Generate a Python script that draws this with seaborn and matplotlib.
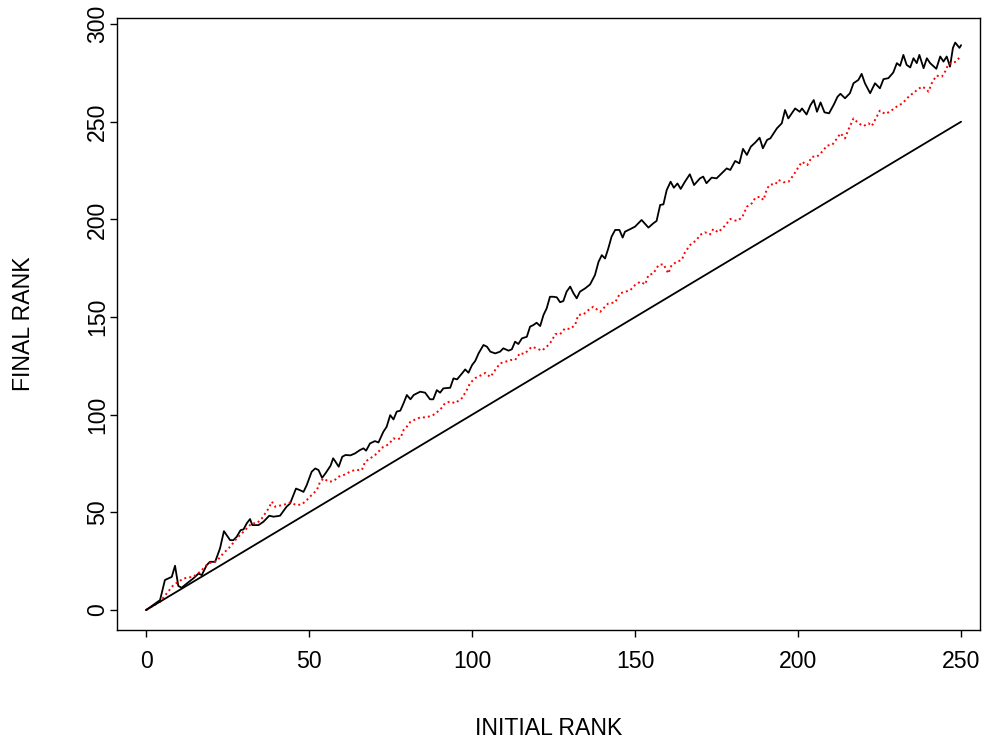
import matplotlib
matplotlib.use("Agg")
import matplotlib.pyplot as plt
import seaborn as sns
import pandas as pd

# Black solid series (initial rank -> final rank)
black_x = [0, 4.3, 5.8, 7.9, 8.9, 9.9, 10.9, 12.5, 14.5, 16.1, 17.1, 18.6, 19.6, 21.2, 22.7, 23.9, 25.8, 26.8, 27.8, 29.0,
           29.9, 30.9, 31.9, 32.6, 34.5, 36.0, 37.8, 39.1, 41.1, 43.1, 44.2, 45.2, 46.0, 47.2, 48.3, 49.3, 50.8, 51.9, 52.9, 54.0,
           55.0, 56.6, 57.4, 58.1, 59.1, 60.2, 61.2, 62.7, 64.1, 65.6, 66.7, 67.5, 68.7, 70.2, 71.3, 72.8, 73.8, 74.9, 75.9, 76.9,
           78.0, 79.0, 80.0, 81.1, 82.1, 84.1, 85.6, 87.1, 88.1, 89.2, 90.2, 91.2, 93.3, 94.3, 95.4, 96.9, 97.9, 98.9, 100.0, 101.0,
           102.0, 103.5, 104.6, 105.6, 107.1, 108.6, 109.6, 111.2, 112.2, 113.2, 114.2, 115.3, 116.8, 117.8, 118.8, 119.8, 120.9, 121.9, 122.9, 123.9,
           124.9, 126.0, 127.0, 128.0, 129.0, 130.1, 131.1, 132.1, 133.1, 134.7, 136.2, 137.7, 138.8, 139.8, 140.8, 141.8, 142.8, 143.9, 145.2, 146.2,
           146.9, 148.5, 150.0, 152.0, 154.1, 155.6, 156.6, 157.7, 158.7, 159.7, 160.9, 161.9, 163.0, 164.0, 165.3, 166.8, 168.1, 169.9, 170.9, 171.9,
           173.5, 175.0, 176.6, 178.1, 179.2, 180.7, 182.0, 183.1, 184.3, 185.5, 186.9, 188.2, 189.2, 190.5, 191.5, 193.5, 195.0, 196.0, 197.0, 199.1,
           200.5, 201.2, 202.6, 203.8, 204.8, 205.8, 206.9, 208.1, 209.5, 211.0, 212.1, 213.0, 214.4, 215.9, 217.0, 218.5, 219.5, 220.5, 222.1, 223.6,
           225.1, 226.2, 227.7, 229.2, 230.3, 231.3, 232.3, 233.3, 234.4, 235.4, 236.4, 237.2, 238.5, 239.5, 240.5, 242.4, 243.6, 244.6, 245.6, 246.6,
           247.5, 248.2, 249.5, 250.0]
black_y = [0, 5.1, 15.4, 17.0, 22.7, 12.4, 11.4, 13.6, 16.2, 18.7, 17.9, 23.0, 24.7, 24.7, 31.6, 40.4, 35.8, 35.8, 37.5, 40.9,
           41.3, 44.4, 46.6, 43.5, 43.5, 45.2, 48.3, 47.8, 48.3, 52.9, 54.6, 58.9, 62.2, 61.4, 60.5, 64.0, 70.8, 72.5, 71.7, 67.7,
           69.9, 73.9, 77.7, 76.0, 73.4, 78.5, 79.4, 79.2, 80.2, 81.9, 82.8, 81.6, 85.3, 86.5, 85.8, 91.3, 93.8, 99.8, 97.6, 101.6,
           102.1, 105.9, 110.1, 107.9, 110.1, 111.8, 111.3, 107.9, 107.9, 112.6, 111.3, 113.5, 113.8, 118.6, 118.1, 121.1, 123.2, 121.5, 125.4, 127.6,
           131.4, 135.7, 134.8, 132.3, 131.4, 132.3, 134.0, 132.8, 133.5, 137.4, 136.2, 139.1, 139.9, 145.1, 145.9, 147.1, 145.4, 151.0, 154.5, 160.4,
           160.4, 160.1, 157.6, 158.2, 163.0, 165.6, 162.2, 159.6, 163.0, 164.7, 166.7, 171.5, 178.3, 181.7, 180.0, 185.2, 191.2, 194.6, 194.6, 190.7,
           193.7, 195.0, 196.3, 199.7, 195.8, 198.0, 199.2, 207.4, 207.7, 215.0, 219.3, 216.2, 218.4, 215.6, 219.3, 223.1, 217.6, 221.0, 221.9, 218.5,
           221.4, 221.0, 223.6, 226.1, 225.3, 229.9, 228.7, 236.1, 233.0, 237.2, 239.4, 241.8, 236.4, 240.7, 241.5, 246.6, 249.2, 256.0, 251.7, 256.8,
           255.1, 256.8, 253.7, 258.5, 261.1, 255.1, 259.9, 254.8, 254.3, 258.9, 262.8, 264.3, 262.0, 264.6, 269.7, 271.4, 274.5, 269.7, 264.6, 269.7,
           267.1, 271.8, 272.3, 275.2, 280.0, 278.6, 284.2, 279.1, 277.8, 282.5, 280.0, 284.2, 277.4, 282.5, 280.0, 277.1, 283.4, 280.8, 283.4, 278.2,
           287.8, 290.5, 287.8, 289.2]

# Red dotted series
red_x = [0, 4.3, 8.4, 11.5, 14.5, 16.6, 19.1, 21.7, 23.7, 25.8, 27.8, 29.9, 31.4, 32.4, 34.0, 35.5, 37.6, 38.6, 39.6, 41.1,
         42.6, 44.2, 46.2, 47.8, 49.3, 50.8, 52.4, 53.4, 54.5, 56.0, 57.5, 59.1, 61.2, 62.7, 64.1, 66.2, 67.2, 68.7, 70.2, 71.8,
         72.8, 74.4, 75.9, 76.9, 78.0, 79.0, 80.0, 81.1, 82.6, 84.1, 86.1, 88.1, 90.2, 91.7, 93.3, 94.8, 96.9, 98.4, 99.4, 101.0,
         102.5, 104.1, 105.6, 107.1, 108.6, 110.2, 111.7, 113.2, 114.8, 115.8, 116.8, 118.3, 119.8, 121.4, 122.9, 124.5, 125.5, 127.0, 128.5, 130.1,
         131.6, 132.6, 134.2, 135.7, 137.2, 139.3, 140.3, 141.8, 143.9, 145.4, 147.0, 148.5, 150.0, 151.6, 153.1, 154.1, 155.6, 157.2, 158.7, 160.2,
         161.2, 162.8, 164.3, 165.3, 166.9, 168.9, 169.9, 171.4, 173.0, 174.0, 175.5, 177.6, 179.2, 181.2, 182.8, 184.3, 185.8, 186.9, 188.4, 189.4,
         190.5, 191.5, 193.0, 194.0, 195.5, 197.1, 198.6, 200.2, 201.2, 202.8, 204.3, 205.8, 207.4, 208.9, 210.5, 212.0, 213.0, 214.4, 215.4, 217.0,
         218.5, 220.1, 221.6, 222.6, 223.6, 225.1, 226.7, 228.2, 230.3, 231.8, 233.3, 234.4, 235.4, 236.4, 238.0, 239.0, 240.0, 241.0, 242.4, 244.1,
         245.1, 246.1, 247.1, 248.5, 249.5, 250.0]
red_y = [0, 4.3, 12.8, 16.2, 17.1, 19.6, 23.9, 25.1, 29.0, 32.4, 36.7, 40.1, 42.7, 44.4, 44.4, 46.9, 52.0, 55.5, 52.9, 53.5,
         54.1, 55.1, 53.7, 54.1, 56.3, 58.9, 61.4, 65.7, 67.4, 65.7, 66.0, 68.3, 69.5, 71.0, 71.7, 71.7, 75.9, 77.6, 79.3, 81.9,
         83.6, 84.8, 87.9, 87.4, 87.9, 92.2, 93.9, 96.4, 97.6, 98.6, 98.7, 99.9, 102.5, 105.9, 106.8, 105.9, 108.5, 112.7, 116.2, 118.8,
         120.0, 121.4, 119.3, 122.9, 126.3, 127.1, 128.0, 128.0, 131.7, 131.1, 132.3, 134.8, 134.0, 132.8, 134.8, 137.9, 141.3, 141.2, 144.2, 143.9,
         145.9, 151.1, 151.4, 153.6, 155.3, 152.7, 154.5, 157.0, 157.5, 162.2, 163.0, 163.7, 166.4, 168.1, 166.7, 171.5, 172.3, 176.6, 177.1, 172.3,
         176.6, 178.3, 179.2, 183.1, 186.9, 189.5, 192.0, 193.4, 192.3, 195.1, 193.4, 196.8, 200.2, 199.2, 200.9, 206.5, 208.2, 211.1, 211.6, 209.9,
         215.9, 217.9, 217.9, 220.2, 219.0, 219.3, 222.7, 227.0, 229.5, 227.8, 232.1, 232.1, 234.7, 237.8, 238.2, 241.6, 244.1, 241.5, 245.8, 251.7,
         249.2, 247.8, 249.2, 247.8, 250.9, 255.7, 254.0, 255.2, 257.8, 259.2, 261.6, 263.8, 264.5, 266.2, 268.0, 267.1, 265.4, 269.7, 273.6, 273.1,
         275.7, 279.5, 280.0, 280.8, 282.9, 283.4]

# Reference diagonal
diag_x = [0, 250]
diag_y = [0, 250]

x_ticks = [0, 50, 100, 150, 200, 250]
y_ticks = [0, 50, 100, 150, 200, 250, 300]

sns.set_style("white")
plt.rcParams['font.family'] = ['Liberation Sans', 'DejaVu Sans']
for k in ["text.color", "axes.labelcolor", "xtick.color", "ytick.color", "axes.edgecolor"]:
    plt.rcParams[k] = "black"

FS = 16.6
fig = plt.figure(figsize=(9.84, 7.40), dpi=100)
ax = fig.add_axes([117/984, 1 - 630/740, (980 - 117)/984, (630 - 18)/740])

df_b = pd.DataFrame({"x": black_x, "y": black_y})
df_r = pd.DataFrame({"x": red_x, "y": red_y})
df_d = pd.DataFrame({"x": diag_x, "y": diag_y})

sns.lineplot(data=df_b, x="x", y="y", ax=ax, color="black", lw=1.3, sort=False, estimator=None)
sns.lineplot(data=df_r, x="x", y="y", ax=ax, color="red", lw=1.4, sort=False, estimator=None,
             linestyle=(0, (1, 1.6)))
sns.lineplot(data=df_d, x="x", y="y", ax=ax, color="black", lw=1.3, sort=False, estimator=None)

ax.set_xlim(-8.9, 255.8)
ax.set_ylim(-10.2, 303.1)
ax.set_xticks(x_ticks)
ax.set_yticks(y_ticks)
ax.set_xticklabels([str(t) for t in x_ticks])
ax.set_yticklabels([str(t) for t in y_ticks], rotation=90, va="center")
for s in ax.spines.values():
    s.set_visible(True)
    s.set_color("black")
    s.set_linewidth(1.0)
ax.tick_params(axis="both", which="major", direction="out", length=5, width=1.0,
               color="black", labelsize=FS, bottom=True, left=True)
ax.tick_params(axis="x", pad=9.6)
ax.tick_params(axis="y", pad=0.5)
ax.set_xlabel("INITIAL RANK", fontsize=FS)
ax.set_ylabel("FINAL RANK", fontsize=FS)
ax.xaxis.set_label_coords(0.5, -0.1428)
ax.yaxis.set_label_coords(-0.0949, 0.5)
ax.grid(False)

fig.savefig("out.png", dpi=100)
